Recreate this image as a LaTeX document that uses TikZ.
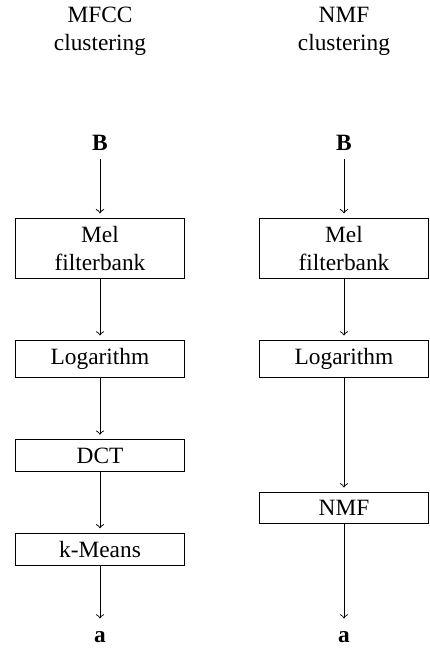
\documentclass[tikz,border=0pt]{standalone}
\usepackage{fontspec}
\setmainfont{Liberation Serif}
\usetikzlibrary{arrows,positioning}
\tikzset{block/.style={draw, thin, minimum width=72pt, align=center},
         flow/.style={->, thin, shorten >=2pt}}

\begin{document}
\begin{tikzpicture}[x=0.428pt, y=-0.428pt]
\useasboundingbox (0,0) rectangle (430,653);

% MFCC column
\node[align=center] (mfccTitle) at (100,31) {MFCC\\clustering};
\node (mfccIn) at (100,143) {\textbf{B}};
\node[block] (mfccMel) at (100,248.5) {Mel\\filterbank};
\node[block] (mfccLog) at (100,359) {Logarithm};
\node[block] (mfccDct) at (100,455.5) {DCT};
\node[block] (mfccKm) at (100,549.5) {k-Means};
\node (mfccOut) at (100,637) {\textbf{a}};

\draw[flow] (mfccIn) -- (mfccMel);
\draw[flow] (mfccMel) -- (mfccLog);
\draw[flow] (mfccLog) -- (mfccDct);
\draw[flow] (mfccDct) -- (mfccKm);
\draw[flow] (mfccKm) -- (mfccOut);

% NMF column
\node[align=center] (nmfTitle) at (344,31) {NMF\\clustering};
\node (nmfIn) at (344,143) {\textbf{B}};
\node[block] (nmfMel) at (344,248.5) {Mel\\filterbank};
\node[block] (nmfLog) at (344,359) {Logarithm};
\node[block] (nmfNmf) at (344,508) {NMF};
\node (nmfOut) at (344,637) {\textbf{a}};

\draw[flow] (nmfIn) -- (nmfMel);
\draw[flow] (nmfMel) -- (nmfLog);
\draw[flow] (nmfLog) -- (nmfNmf);
\draw[flow] (nmfNmf) -- (nmfOut);

\end{tikzpicture}
\end{document}
